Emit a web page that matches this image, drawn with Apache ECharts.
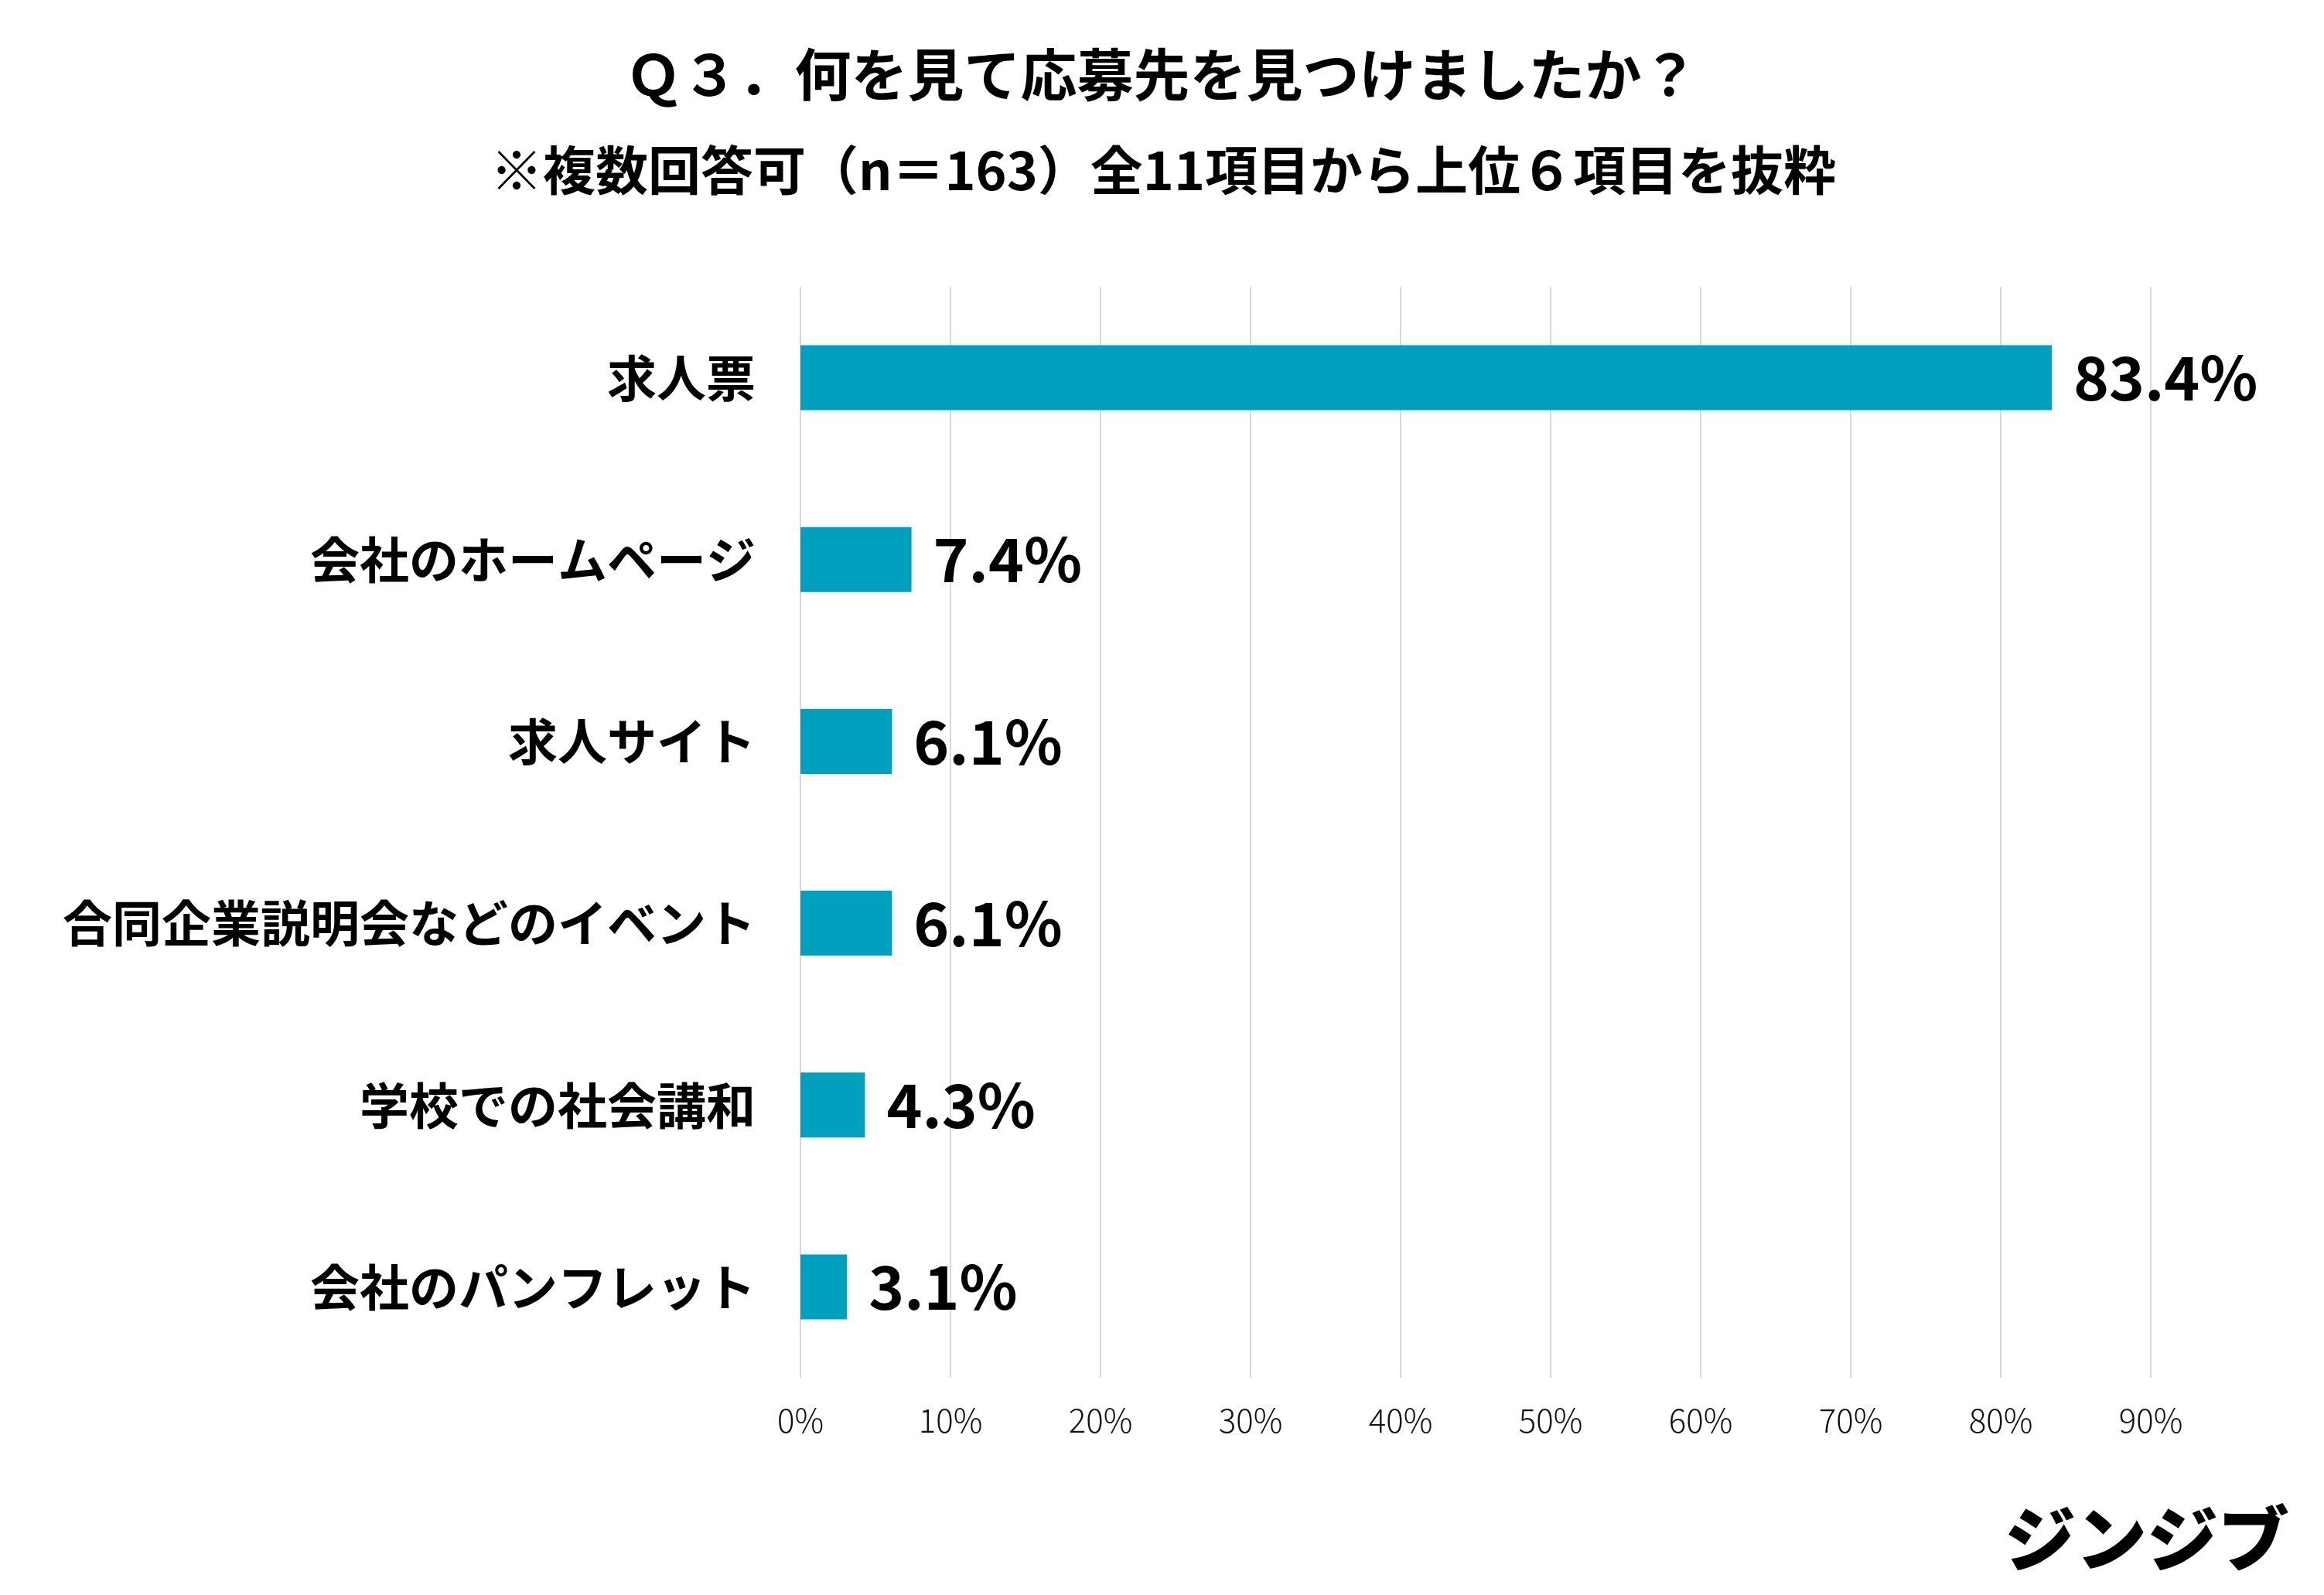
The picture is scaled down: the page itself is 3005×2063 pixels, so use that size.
<!DOCTYPE html>
<html>
<head>
<meta charset="utf-8">
<script src="https://cdn.jsdelivr.net/npm/echarts@6/dist/echarts.min.js"></script>
<style>
html,body{margin:0;padding:0;background:#fff;}
#main{width:3005px;height:2063px;}
</style>
</head>
<body>
<div id="main"></div>
<script>
const titleText = 'Ｑ３．何を見て応募先を見つけましたか？';
const subtitleText = '※複数回答可（n＝163）全11項目から上位６項目を抜粋';
const logoText = 'ジンジブ';
const categories = ['求人票','会社のホームページ','求人サイト','合同企業説明会などのイベント','学校での社会講和','会社のパンフレット'];
const values = [83.4, 7.4, 6.1, 6.1, 4.3, 3.1];
const axisMin = 0, axisMax = 90, axisStep = 10;

const FONT = '"Noto Sans CJK JP", "Noto Sans", sans-serif';
const chart = echarts.init(document.getElementById('main'), null, {renderer:'canvas'});
chart.setOption({
  backgroundColor:'#ffffff',
  animation:false,
  grid:{left:1035, right:224, top:371, bottom:281, containLabel:false},
  xAxis:{
    type:'value', min:axisMin, max:axisMax, interval:axisStep,
    axisLine:{show:false}, axisTick:{show:false},
    splitLine:{show:true, lineStyle:{color:'#d9d9d9', width:2}},
    axisLabel:{formatter:'{value}%', fontSize:42, fontWeight:300, color:'#111', fontFamily:FONT, margin:34}
  },
  yAxis:{
    type:'category', data:categories, inverse:true,
    axisLine:{show:false}, axisTick:{show:false},
    axisLabel:{fontSize:64, fontWeight:'bold', color:'#000', fontFamily:FONT, margin:58}
  },
  series:[{
    type:'bar', data:values, barWidth:84,
    itemStyle:{color:'#00a0be'},
    label:{show:true, position:'right', distance:28, formatter:p=>p.value.toFixed(1)+'%',
      fontSize:78, fontWeight:'bold', color:'#000', fontFamily:FONT}
  }],
  graphic:[
    {type:'text', style:{text:titleText, x:1502, y:96, textAlign:'center', textVerticalAlign:'middle', fontSize:73, fontWeight:'bold', fill:'#000', fontFamily:FONT}},
    {type:'text', style:{text:subtitleText, x:1504, y:220, textAlign:'center', textVerticalAlign:'middle', fontSize:68, fontWeight:'bold', fill:'#000', fontFamily:FONT}},
    {type:'text', style:{text:logoText, x:2960, y:1990, textAlign:'right', textVerticalAlign:'middle', fontSize:92, fontWeight:900, fill:'#000', fontFamily:FONT}}
  ]
});
</script>
</body>
</html>
